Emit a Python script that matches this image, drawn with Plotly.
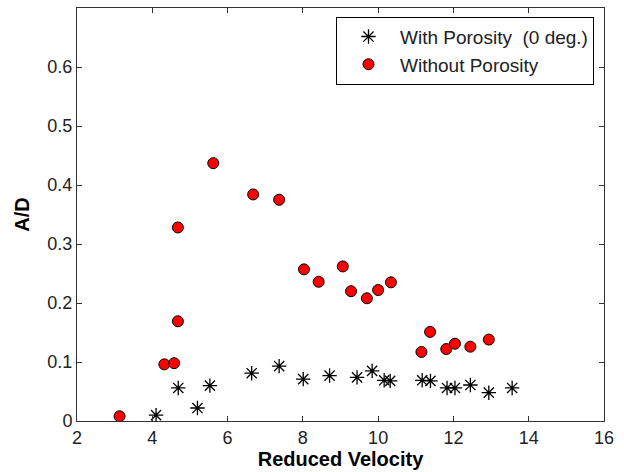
import plotly.graph_objects as go

# With Porosity (0 deg.)
with_x = [4.10, 4.69, 5.20, 5.53, 6.64, 7.37, 8.01, 8.71, 9.44, 9.84, 10.16, 10.32,
          11.17, 11.39, 11.83, 12.04, 12.45, 12.94, 13.56]
with_y = [0.010, 0.056, 0.022, 0.060, 0.081, 0.093, 0.071, 0.077, 0.074, 0.085, 0.069, 0.068,
          0.069, 0.068, 0.056, 0.056, 0.061, 0.048, 0.056]

# Without Porosity
without_x = [3.13, 4.32, 4.58, 4.68, 4.68, 5.62, 6.68, 7.37, 8.03, 8.42, 9.06, 9.28,
             9.70, 10.00, 10.34, 11.15, 11.38, 11.81, 12.04, 12.45, 12.94]
without_y = [0.008, 0.096, 0.098, 0.169, 0.328, 0.437, 0.384, 0.375, 0.257, 0.236, 0.262, 0.220,
             0.208, 0.222, 0.235, 0.117, 0.151, 0.122, 0.131, 0.126, 0.138]

x_ticks = [2, 4, 6, 8, 10, 12, 14, 16]
y_ticks = [0, 0.1, 0.2, 0.3, 0.4, 0.5, 0.6]
y_tick_labels = ["0", "0.1", "0.2", "0.3", "0.4", "0.5", "0.6"]

FONT = "Liberation Sans, Arial, sans-serif"
AX = "#333333"

fig = go.Figure()
fig.add_trace(go.Scatter(
    x=with_x, y=with_y, mode="markers", name="With Porosity  (0 deg.)",
    marker=dict(symbol="asterisk-open", size=12, color="black",
                line=dict(color="black", width=1.3)),
))
fig.add_trace(go.Scatter(
    x=without_x, y=without_y, mode="markers", name="Without Porosity",
    marker=dict(symbol="circle", size=11, color="#ff0000",
                line=dict(color="black", width=1)),
))

fig.update_layout(
    width=624, height=472,
    margin=dict(l=77, r=20, t=8, b=51),
    paper_bgcolor="white", plot_bgcolor="white",
    font=dict(family=FONT, size=18, color="#222222"),
    showlegend=True,
    legend=dict(
        x=(336 - 77) / 527, y=0.979, xanchor="left", yanchor="top",
        bgcolor="white", bordercolor="black", borderwidth=1,
        font=dict(family=FONT, size=19, color="#222222"),
        itemwidth=53, tracegroupgap=0,
    ),
    xaxis=dict(
        range=[2, 16], tickvals=x_ticks, ticktext=[str(v) for v in x_ticks],
        ticks="inside", ticklen=5, tickcolor=AX, tickwidth=1,
        showline=True, linecolor=AX, linewidth=1, mirror="ticks",
        showgrid=False, zeroline=False,
        tickfont=dict(family=FONT, size=18, color="#222222"),
        title=dict(text="<b>Reduced Velocity</b>", standoff=5,
                   font=dict(family=FONT, size=20, color="black")),
        automargin=False,
    ),
    yaxis=dict(
        range=[0, 0.7], tickvals=y_ticks, ticktext=y_tick_labels,
        ticks="inside", ticklen=5, tickcolor=AX, tickwidth=1,
        showline=True, linecolor=AX, linewidth=1, mirror="ticks",
        showgrid=False, zeroline=False,
        tickfont=dict(family=FONT, size=18, color="#222222"),
        title=dict(text="<b>A/D</b>", standoff=12,
                   font=dict(family=FONT, size=20, color="black")),
        automargin=False,
    ),
)

fig.write_html("out.html")
